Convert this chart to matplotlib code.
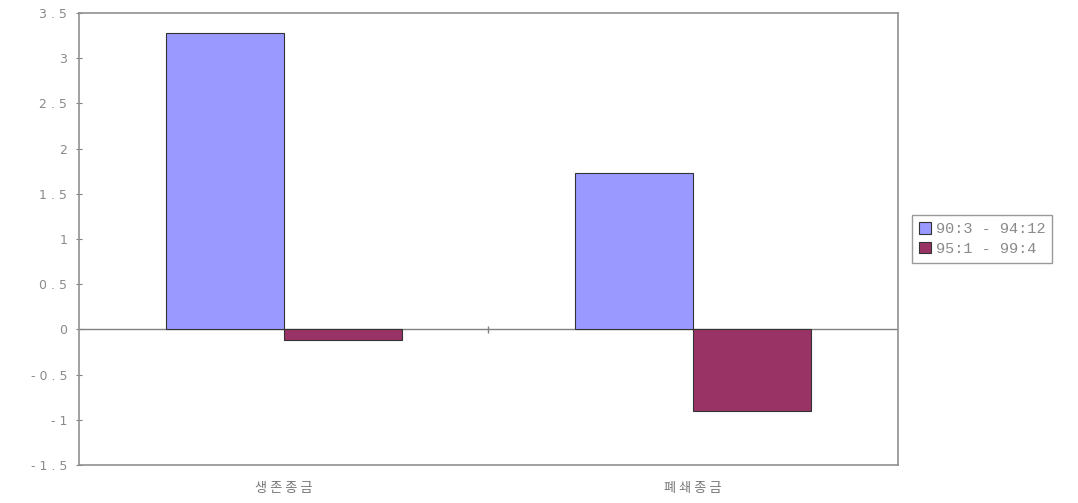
import matplotlib.pyplot as plt
import numpy as np

plt.rcParams['font.family'] = ['DejaVu Sans']

categories = ['생존종금', '폐쇄종금']
series_names = ['90:3 - 94:12', '95:1 - 99:4']
period1 = [3.28, 1.73]
period2 = [-0.12, -0.9]
yticks = [-1.5, -1, -0.5, 0, 0.5, 1, 1.5, 2, 2.5, 3, 3.5]

fig = plt.figure(figsize=(10.78, 5.03), dpi=100)
ax = fig.add_axes([0.0733, 0.0755, 0.7597, 0.8985])

x = np.arange(len(categories))
w = 0.288
ax.bar(x - w/2, period1, w, color='#9999FF', edgecolor='#333333', linewidth=0.8,
       label=series_names[0], zorder=3)
ax.bar(x + w/2, period2, w, color='#993366', edgecolor='#333333', linewidth=0.8,
       label=series_names[1], zorder=3)

ax.axhline(0, color='#808080', linewidth=1, zorder=2)
ax.vlines([0.5], -0.04, 0.04, color='#808080', linewidth=1)

ax.set_xlim(-0.5, 1.5)
ax.set_ylim(-1.5, 3.5)
ax.set_yticks(yticks)
ax.set_yticklabels([('- ' + str(abs(v)) if v < 0 else str(v)).replace('.0', '').replace('.', ' . ')
                    for v in yticks], color='#8a8a8a', fontsize=9)
ax.set_xticks(x)
ax.set_xticklabels([' '.join(c) for c in categories],
                   family=['Noto Sans CJK KR', 'DejaVu Sans'],
                   color='#777777', fontsize=9.5)
ax.tick_params(axis='x', length=0, pad=12)
ax.tick_params(axis='y', direction='inout', length=5, color='#808080', pad=6)
for s in ax.spines.values():
    s.set_color('#909090')
    s.set_linewidth(1.2)

leg = ax.legend(loc='center left', bbox_to_anchor=(1.008, 0.5), frameon=True,
                fancybox=False, edgecolor='#808080',
                prop={'family': 'Liberation Mono', 'size': 11},
                handlelength=0.8, handleheight=0.8, handletextpad=0.3,
                borderpad=0.45, labelspacing=0.35)
for t in leg.get_texts():
    t.set_color('#8a8a8a')

fig.savefig('out.png', dpi=100)
